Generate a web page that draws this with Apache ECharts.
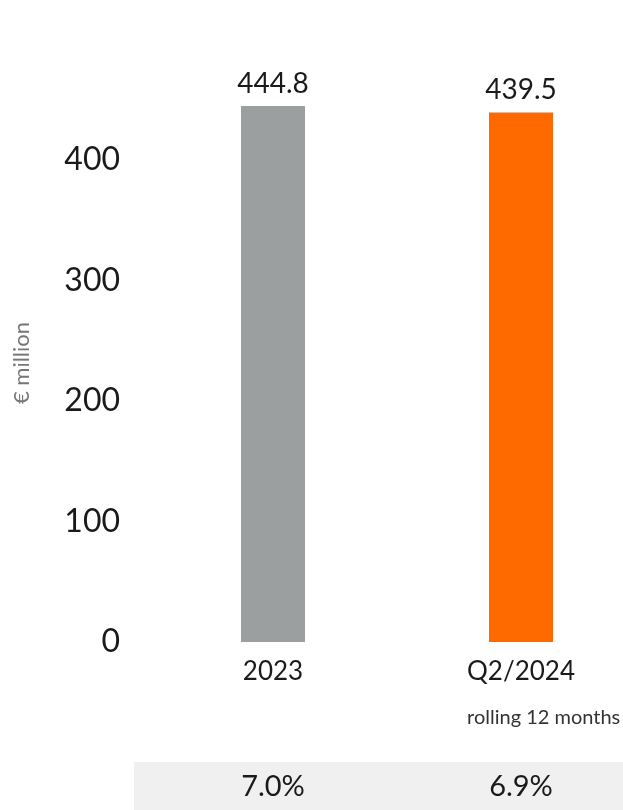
<!DOCTYPE html>
<html>
<head>
<meta charset="utf-8">
<style>
  html, body { margin: 0; padding: 0; background: #ffffff; }
  #chart { width: 623px; height: 810px; }
</style>
<script src="https://cdn.jsdelivr.net/npm/echarts@6/dist/echarts.min.js"></script>
</head>
<body>
<div id="chart"></div>
<script>
// Revenue per period (EUR million) and margin shown beneath each bar
const categories = ['2023', 'Q2/2024'];
const values = [444.8, 439.5];
const barColors = ['#9c9fa0', '#ff6a00'];
const margins = ['7.0%', '6.9%'];
const yTicks = [0, 100, 200, 300, 400];

const FONT = 'Lato, "Open Sans", sans-serif';
const TEXT = '#1a1a1a';

const chart = echarts.init(document.getElementById('chart'), null, { renderer: 'canvas' });

chart.setOption({
  animation: false,
  backgroundColor: '#ffffff',
  // categories sit on the grid edges (boundaryGap off), bars overhang them
  grid: { left: 273, right: 102, top: 39.5, height: 602.5, containLabel: false },
  xAxis: [
    {
      type: 'category',
      data: categories,
      boundaryGap: false,
      axisLine: { show: false },
      axisTick: { show: false },
      axisLabel: { color: TEXT, fontFamily: FONT, fontSize: 26, margin: 17 }
    },
    {
      type: 'category',
      data: margins,
      boundaryGap: false,
      position: 'bottom',
      offset: 130,
      axisLine: { show: false },
      axisTick: { show: false },
      axisLabel: { color: TEXT, fontFamily: FONT, fontSize: 29, margin: 0 }
    }
  ],
  yAxis: {
    type: 'value',
    min: yTicks[0],
    max: 500,
    interval: 100,
    splitLine: { show: false },
    axisLine: { show: false },
    axisTick: { show: false },
    axisLabel: {
      color: TEXT, fontFamily: FONT, fontSize: 32, margin: 153,
      showMaxLabel: false,
      formatter: v => (yTicks.indexOf(v) >= 0 ? String(v) : '')
    }
  },
  graphic: [
    {
      type: 'rect', z: -1,
      shape: { x: 134, y: 762, width: 489, height: 48 },
      style: { fill: '#f0f0f0' }
    },
    {
      type: 'text',
      x: 22, y: 363, rotation: Math.PI / 2,
      style: {
        text: '€ million', fill: '#777777', fontSize: 22, fontFamily: FONT,
        align: 'center', verticalAlign: 'middle'
      }
    }
  ],
  series: [
    {
      type: 'bar',
      xAxisIndex: 0,
      barWidth: 64,
      clip: false,
      data: values.map((v, i) => ({ value: v, itemStyle: { color: barColors[i] } })),
      label: {
        show: true, position: 'top', distance: 8,
        color: TEXT, fontFamily: FONT, fontSize: 28,
        formatter: p => p.value.toFixed(1)
      }
    }
  ]
});

// Subtitle under the second category, left-aligned with its label
const cx = chart.convertToPixel({ xAxisIndex: 0 }, categories[1]);
const ctx = document.createElement('canvas').getContext('2d');
ctx.font = '26px ' + FONT;
const labelW = ctx.measureText(categories[1]).width;
chart.setOption({
  graphic: [
    {}, {},
    {
      type: 'text',
      x: cx - labelW / 2, y: 718,
      style: {
        text: 'rolling 12 months', fill: '#333333', fontSize: 20, fontFamily: FONT,
        align: 'left', verticalAlign: 'middle'
      }
    }
  ]
});
</script>
</body>
</html>
